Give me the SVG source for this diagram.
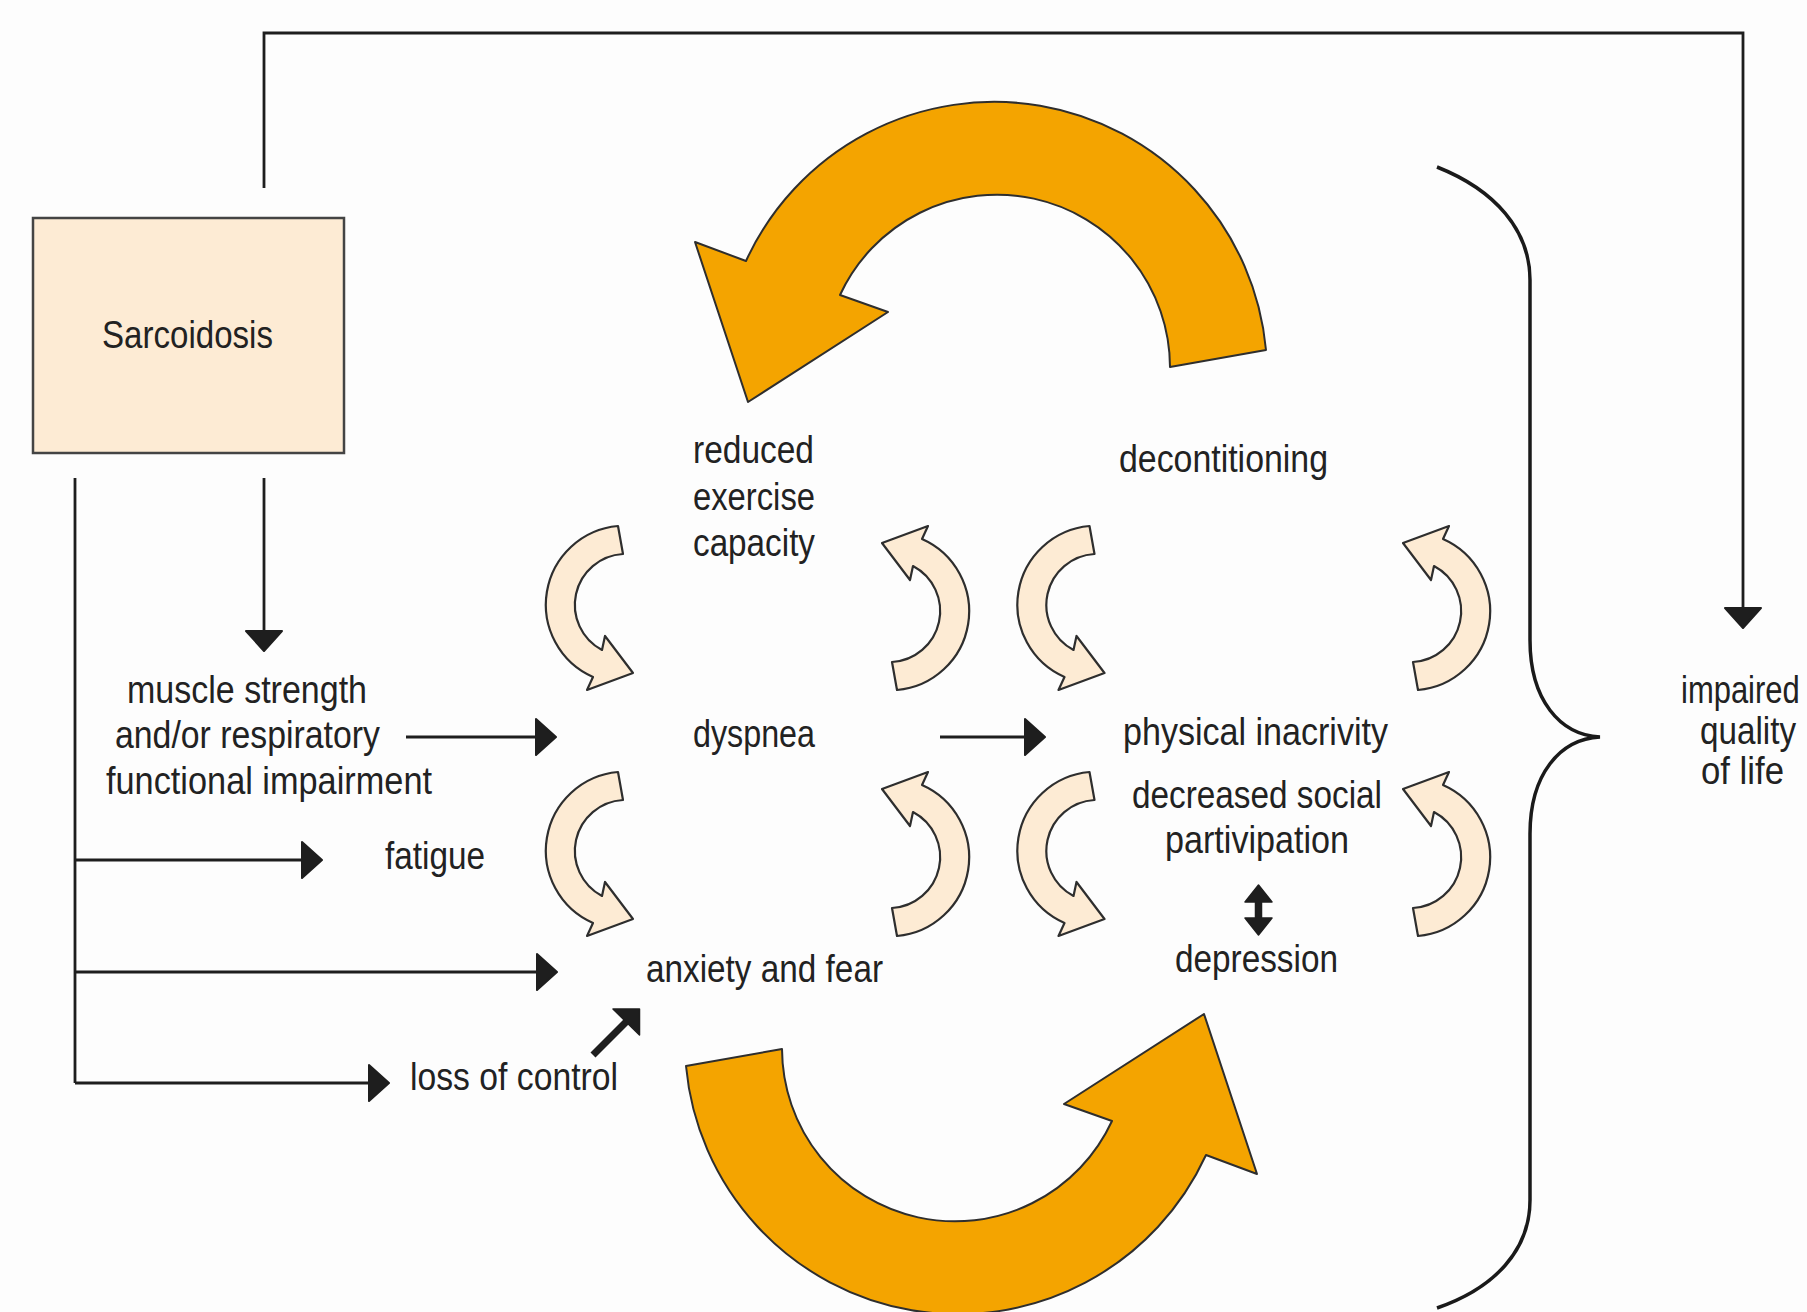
<svg xmlns="http://www.w3.org/2000/svg" width="1807" height="1312" viewBox="0 0 1807 1312">
  <style>
    .lbl { font-family: "Liberation Sans", Arial, sans-serif; font-size: 38px; fill: #222; }
    .conn { fill: none; stroke: #1e1e1e; stroke-width: 2.8; }
    .big { fill: #f4a400; stroke: #2e2e2e; stroke-width: 2; stroke-linejoin: round; }
    .small { fill: #fdebd4; stroke: #2e2e2e; stroke-width: 2.2; stroke-linejoin: round; }
    .solid { fill: #1e1e1e; stroke: #1e1e1e; stroke-width: 1.5; stroke-linejoin: round; }
  </style>
  <defs>
    <marker id="ah" viewBox="0 0 22 38" markerWidth="22" markerHeight="38" refX="0" refY="19" orient="auto" markerUnits="userSpaceOnUse">
      <path d="M1,1 L21,19 L1,37 Z" fill="#1e1e1e" stroke="#1e1e1e" stroke-width="2" stroke-linejoin="round"/>
    </marker>
    <path id="cream" class="small" d="M -7,-79 A 79 79 0 0 0 -32,72 L -38,85 L 8,68 L -20,31 L -23,45 A 51 51 0 0 1 -2,-51 Z"/>
    <path id="orange" class="big" d="M 1266,350 A 273 273 0 0 0 746,261 L 695,242 L 748,402 L 888,312 L 840,295 A 173 173 0 0 1 1170,367 Z"/>
  </defs>
  <rect width="1807" height="1312" fill="#fdfdfd"/>

  <g id="cycle-arrows">
    <use href="#orange"/>
    <use href="#orange" transform="rotate(180 976 708)"/>
  </g>

  <g id="loop-arrows">
    <use href="#cream" transform="translate(625 605)"/>
    <use href="#cream" transform="translate(625 851)"/>
    <use href="#cream" transform="translate(1096.5 605)"/>
    <use href="#cream" transform="translate(1096.5 851)"/>
    <use href="#cream" transform="translate(890 611) rotate(180)"/>
    <use href="#cream" transform="translate(890 857) rotate(180)"/>
    <use href="#cream" transform="translate(1411 611) rotate(180)"/>
    <use href="#cream" transform="translate(1411 857) rotate(180)"/>
  </g>

  <g id="connectors">
    <path class="conn" d="M264,188 L264,33 L1743,33 L1743,607" marker-end="url(#ah)"/>
    <path class="conn" d="M264,478 L264,630" marker-end="url(#ah)"/>
    <path class="conn" d="M75,478 L75,1083"/>
    <path class="conn" d="M75,860 L301,860" marker-end="url(#ah)"/>
    <path class="conn" d="M75,972 L536,972" marker-end="url(#ah)"/>
    <path class="conn" d="M75,1083 L368,1083" marker-end="url(#ah)"/>
    <path class="conn" d="M406,737 L535,737" marker-end="url(#ah)"/>
    <path class="conn" d="M940,737 L1024,737" marker-end="url(#ah)"/>
    <path d="M593,1055 L628,1020" fill="none" stroke="#1e1e1e" stroke-width="7"/>
    <polygon class="solid" points="613,1009 639.5,1009 639.5,1035"/>
    <path class="solid" d="M1258.5,885 L1272,902 L1261.5,902 L1261.5,918 L1272,918 L1258.5,935 L1245,918 L1255.5,918 L1255.5,902 L1245,902 Z"/>
    <path d="M1437,167 C1495,190 1530,230 1530,280 L1530,640 C1530,700 1560,735 1600,737 C1560,739 1530,774 1530,834 L1530,1200 C1530,1250 1495,1288 1437,1308" fill="none" stroke="#1a1a1a" stroke-width="3.5"/>
  </g>

  <g id="sarcoidosis">
    <rect x="33" y="218" width="311" height="235" fill="#fdebd4" stroke="#444" stroke-width="2.5"/>
    <text class="lbl" x="102" y="348" textLength="171" lengthAdjust="spacingAndGlyphs">Sarcoidosis</text>
  </g>
  <g id="reduced-exercise-capacity">
    <text class="lbl" x="693" y="463" textLength="121" lengthAdjust="spacingAndGlyphs">reduced</text>
    <text class="lbl" x="693" y="510" textLength="122" lengthAdjust="spacingAndGlyphs">exercise</text>
    <text class="lbl" x="693" y="556" textLength="122" lengthAdjust="spacingAndGlyphs">capacity</text>
  </g>
  <g id="deconditioning">
    <text class="lbl" x="1119" y="472" textLength="209" lengthAdjust="spacingAndGlyphs">decontitioning</text>
  </g>
  <g id="muscle-strength">
    <text class="lbl" x="127" y="703" textLength="240" lengthAdjust="spacingAndGlyphs">muscle strength</text>
    <text class="lbl" x="115" y="748" textLength="265" lengthAdjust="spacingAndGlyphs">and/or respiratory</text>
    <text class="lbl" x="106" y="794" textLength="326" lengthAdjust="spacingAndGlyphs">functional impairment</text>
  </g>
  <g id="dyspnea">
    <text class="lbl" x="693" y="747" textLength="122" lengthAdjust="spacingAndGlyphs">dyspnea</text>
  </g>
  <g id="fatigue">
    <text class="lbl" x="385" y="869" textLength="100" lengthAdjust="spacingAndGlyphs">fatigue</text>
  </g>
  <g id="anxiety">
    <text class="lbl" x="646" y="982" textLength="237" lengthAdjust="spacingAndGlyphs">anxiety and fear</text>
  </g>
  <g id="loss-of-control">
    <text class="lbl" x="410" y="1090" textLength="208" lengthAdjust="spacingAndGlyphs">loss of control</text>
  </g>
  <g id="physical-inactivity">
    <text class="lbl" x="1123" y="745" textLength="265" lengthAdjust="spacingAndGlyphs">physical inacrivity</text>
  </g>
  <g id="social-participation">
    <text class="lbl" x="1132" y="808" textLength="250" lengthAdjust="spacingAndGlyphs">decreased social</text>
    <text class="lbl" x="1165" y="853" textLength="184" lengthAdjust="spacingAndGlyphs">partivipation</text>
  </g>
  <g id="depression">
    <text class="lbl" x="1175" y="972" textLength="163" lengthAdjust="spacingAndGlyphs">depression</text>
  </g>
  <g id="impaired-qol">
    <text class="lbl" transform="translate(1681 703) scale(0.815 1)">impaired</text>
    <text class="lbl" x="1700" y="744" textLength="96" lengthAdjust="spacingAndGlyphs">quality</text>
    <text class="lbl" x="1701" y="784" textLength="83" lengthAdjust="spacingAndGlyphs">of life</text>
  </g>
</svg>
